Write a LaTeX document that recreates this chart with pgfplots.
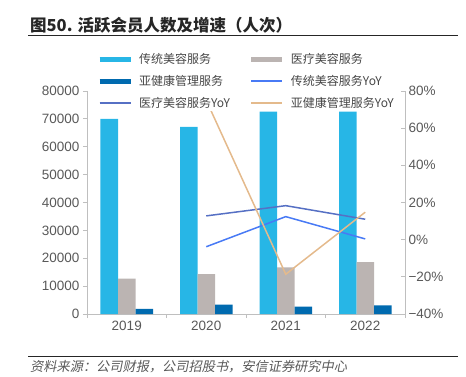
\documentclass[border=0pt]{standalone}
\usepackage{fontspec}
\setmainfont{Liberation Sans}
\newfontfamily\cjk{Noto Sans CJK SC}
\newfontfamily\cjksl{Noto Sans CJK SC}[FakeSlant=0.2]
\usepackage{pgfplots}
\pgfplotsset{compat=1.18}
\definecolor{cA}{RGB}{39,182,230}
\definecolor{cB}{RGB}{187,180,178}
\definecolor{cC}{RGB}{0,106,175}
\definecolor{lA}{RGB}{72,122,245}
\definecolor{lB}{RGB}{86,112,196}
\definecolor{lC}{RGB}{228,186,140}
\definecolor{axc}{RGB}{191,191,191}
\definecolor{tkc}{RGB}{89,89,89}
\definecolor{ttc}{RGB}{38,38,38}
\begin{document}
\begin{tikzpicture}
\useasboundingbox (0pt,0pt) rectangle (466pt,-376pt);
\pgfplotsset{common/.style={scale only axis, width=318pt, height=223pt,
  at={(87pt,-314pt)}, anchor=south west, xmin=-0.5, xmax=3.5,
  axis line style={axc, line width=0.8pt}, tick style={axc, line width=0.8pt},
  tick label style={font=\fontsize{13.5}{15}\selectfont, text=tkc},
  /pgf/number format/assume math mode=true}}
\begin{axis}[common, ybar=0pt, bar width=17.5pt,
  ymin=0, ymax=80000, ytick={0,10000,...,80000}, scaled y ticks=false,
  yticklabel style={/pgf/number format/.cd, fixed, 1000 sep={}},
  axis x line*=bottom, axis y line*=left, tick align=outside,
  xtick={0,1,2,3}, xticklabels={2019,2020,2021,2022},
  major x tick style={draw=none},
  minor xtick={-0.5,0.5,1.5,2.5,3.5}, minor tick length=4pt, major tick length=4pt,
  minor x tick style={axc, line width=0.8pt}]
\addplot[fill=cA, draw=none] coordinates {(0,70000) (1,67100) (2,72600) (3,72600)};
\addplot[fill=cB, draw=none] coordinates {(0,12700) (1,14350) (2,16750) (3,18650)};
\addplot[fill=cC, draw=none] coordinates {(0,1800) (1,3340) (2,2620) (3,3120)};
\end{axis}
\begin{axis}[common, ymin=-40, ymax=80, ytick={-40,-20,...,80},
  yticklabels={−40\%,−20\%,0\%,20\%,40\%,60\%,80\%},
  axis y line*=right, axis x line=none, tick align=inside, major tick length=4pt,
  legend columns=2, legend cell align=left,
  legend image code/.code={\draw[#1] (0pt,0pt) -- (31pt,0pt);},
  legend style={draw=none, fill=white, at={(0.025,1.18)}, anchor=north west,
    font=\cjk\fontsize{12}{14}\selectfont, text=ttc!85,
    inner xsep=2pt, inner ysep=0.5pt, row sep=6pt,
    /tikz/every odd column/.append style={column sep=4pt},
    /tikz/every even column/.append style={column sep=17pt}}]
\addlegendimage{line width=5pt, cA}
\addlegendentry{传统美容服务}
\addlegendimage{line width=5pt, cB}
\addlegendentry{医疗美容服务}
\addlegendimage{line width=5pt, cC}
\addlegendentry{亚健康管理服务}
\addplot[lA, line width=1.5pt] coordinates {(1,-3.8) (2,12.4) (3,0.4)};
\addlegendentry{传统美容服务YoY}
\addplot[lB, line width=1.5pt] coordinates {(1,12.8) (2,18.3) (3,11)};
\addlegendentry{医疗美容服务YoY}
\addplot[lC, line width=1.5pt] coordinates {(1,75) (2,-18.6) (3,14.8)};
\addlegendentry{亚健康管理服务YoY}
\end{axis}
\node[anchor=base west, text=ttc, inner sep=0pt] at (30pt,-31pt) {\cjk\bfseries\fontsize{16.5}{18}\selectfont 图50. 活跃会员人数及增速（人次）};
\draw[ttc, line width=1.2pt] (28pt,-35.5pt) -- (458pt,-35.5pt);
\draw[ttc, line width=1.2pt] (28pt,-356.5pt) -- (458pt,-356.5pt);
\node[anchor=base west, text=tkc, inner sep=0pt] at (30pt,-371pt) {\cjksl\fontsize{13.2}{15}\selectfont 资料来源：公司财报，公司招股书，安信证券研究中心};
\end{tikzpicture}
\end{document}
